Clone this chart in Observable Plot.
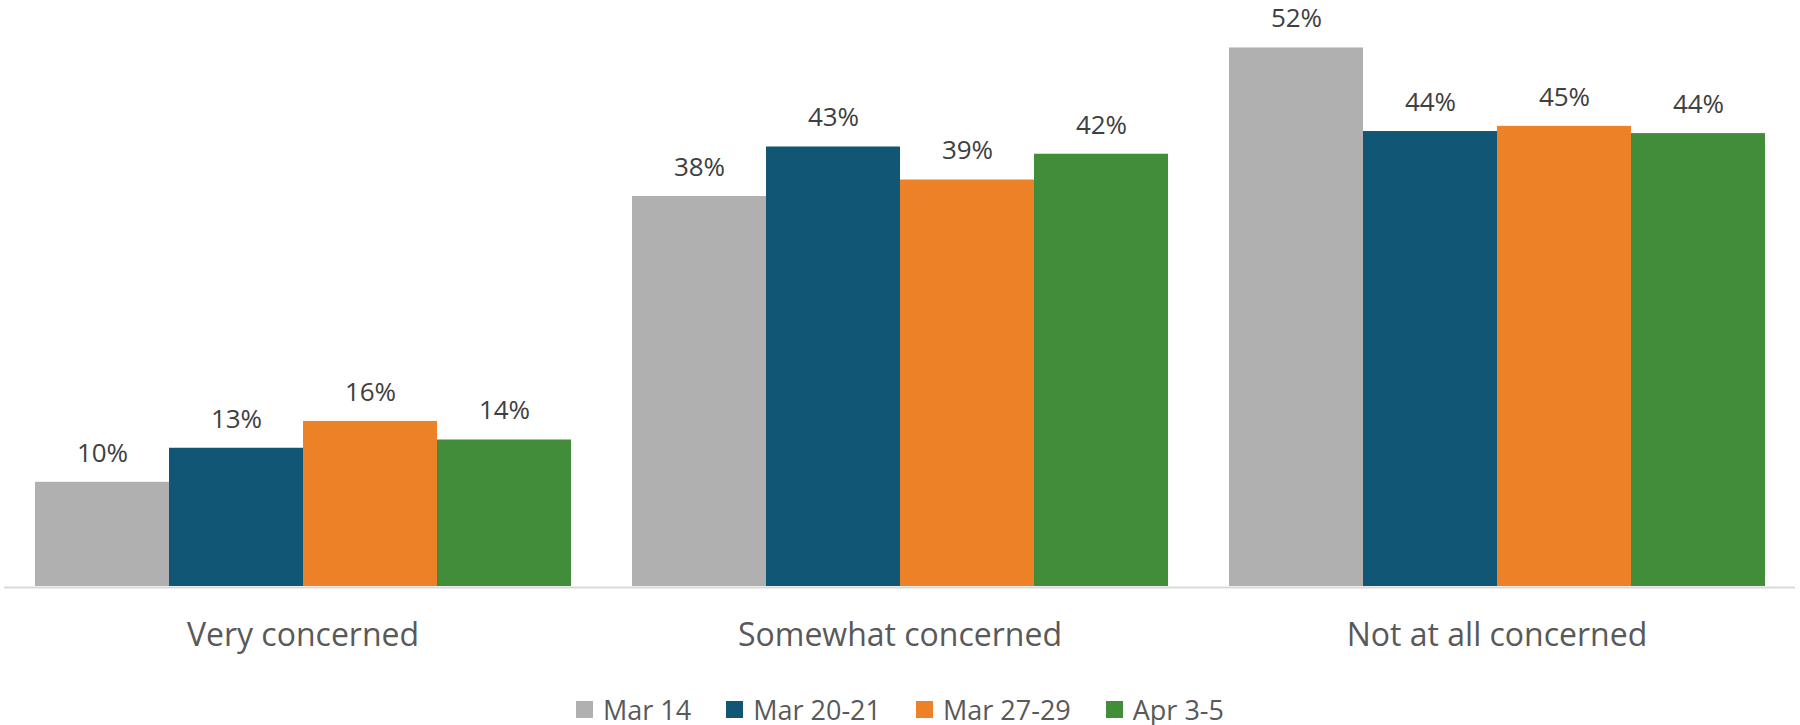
<!DOCTYPE html>
<html>
<head>
<meta charset="utf-8">
<script src="https://cdn.jsdelivr.net/npm/d3@7"></script>
<script src="https://cdn.jsdelivr.net/npm/@observablehq/plot@0.6"></script>
<style>
  html, body { margin: 0; padding: 0; background: #fff; }
  body { width: 1800px; height: 725px; overflow: hidden; position: relative; font-family: "Open Sans", sans-serif; }
  #legend { position: absolute; left: 0; top: 690px; width: 1800px; height: 38px; display: flex; align-items: center; justify-content: center; }
  #legend > div { justify-content: center; color: #595959; margin: 0 !important; }
  #legend [class$="-swatch"] { margin-right: 35px !important; }
  #legend [class$="-swatch"]:last-child { margin-right: 0 !important; }
  #legend [class$="-swatch"] > svg { margin-right: 10px !important; }
</style>
</head>
<body>
<div id="chart"></div>
<div id="legend"></div>
<script>
const categories = ["Very concerned", "Somewhat concerned", "Not at all concerned"];
const series = ["Mar 14", "Mar 20-21", "Mar 27-29", "Apr 3-5"];
// values per series, in category order (labels shown rounded)
const mar14 = [10.1, 37.8, 52.2];
const mar2021 = [13.4, 42.6, 44.1];
const mar2729 = [16.0, 39.4, 44.6];
const apr35 = [14.2, 41.9, 43.9];
const colors = ["#B0B0B0", "#115675", "#EC8127", "#428D3A"];

const seriesValues = [mar14, mar2021, mar2729, apr35];
const data = [];
categories.forEach((c, i) => {
  series.forEach((s, j) => {
    data.push({category: c, series: s, value: seriesValues[j][i]});
  });
});

const chart = Plot.plot({
  width: 1800,
  height: 680,
  marginTop: 0,
  marginBottom: 94,
  marginLeft: 4,
  marginRight: 4,
  style: {fontFamily: "Open Sans, sans-serif", color: "#404040", background: "#fff"},
  fx: {domain: categories, paddingInner: 0.1, paddingOuter: 0.05, label: null},
  x: {domain: series, padding: 0, axis: null},
  y: {domain: [0, 56.8], axis: null},
  color: {domain: series, range: colors},
  marks: [
    Plot.barY(data, {fx: "category", x: "series", y: "value", fill: "series"}),
    Plot.ruleY(categories.map(c => ({category: c, v: 0})), {fx: "category", y: "v", stroke: "#D9D9D9", strokeWidth: 2, dy: 1, insetLeft: -30, insetRight: -30}),
    Plot.text(data, {fx: "category", x: "series", y: "value", text: d => Math.round(d.value) + "%", dy: -29, fontSize: 26, fill: "#404040"}),
    Plot.axisFx({anchor: "bottom", tickSize: 0, tickPadding: 37, fontSize: 32, fill: "#595959", label: null})
  ]
});
document.getElementById("chart").appendChild(chart);

const legend = Plot.legend({
  color: {type: "ordinal", domain: series, range: colors},
  swatchSize: 17,
  style: {fontFamily: "Open Sans, sans-serif", fontSize: "27px", color: "#595959"}
});
document.getElementById("legend").appendChild(legend);
</script>
</body>
</html>
